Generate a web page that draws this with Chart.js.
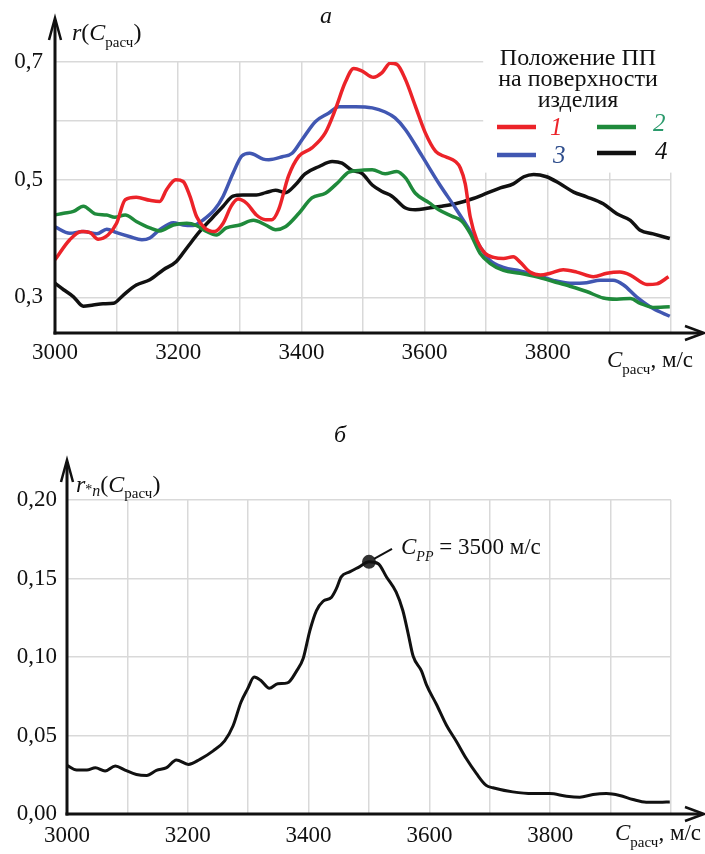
<!DOCTYPE html>
<html lang="ru">
<head>
<meta charset="utf-8">
<title>r(C расч)</title>
<script src="https://cdn.jsdelivr.net/npm/chart.js@4.4.1/dist/chart.umd.min.js"></script>
<style>
  html, body { margin: 0; padding: 0; background: #fff; }
  body { width: 705px; height: 854px; position: relative; overflow: hidden; }
  canvas { position: absolute; left: 0; }
  #c-top { top: 0; }
  #c-bot { top: 400px; }
</style>
</head>
<body>
<canvas id="c-top" width="705" height="400"></canvas>
<canvas id="c-bot" width="705" height="454"></canvas>
<script>
// Рис. а — r(C расч) для четырёх положений ПП; рис. б — r*n(C расч) с максимумом C_PP.
const SERIF = "'Liberation Serif', 'Times New Roman', serif";
const INK = "#111";
const GRID = "#d9d9d9";

// ---- оси ----
const X_TICKS = [3000, 3100, 3200, 3300, 3400, 3500, 3600, 3700, 3800, 3900, 4000];
const X_LABELS = ["3000", "", "3200", "", "3400", "", "3600", "", "3800", "", ""];
const Y1_TICKS = [0.3, 0.4, 0.5, 0.6, 0.7];
const Y1_LABELS = ["0,3", "", "0,5", "", "0,7"];
const Y2_TICKS = [0, 0.05, 0.1, 0.15, 0.2];
const Y2_LABELS = ["0,00", "0,05", "0,10", "0,15", "0,20"];

// ---- а: кривая 1 (красная) ----
const C1 = [3000, 3024, 3043, 3057, 3070, 3086, 3100, 3114, 3132, 3154, 3170, 3181, 3196, 3208, 3219, 3230,
  3243, 3259, 3273, 3286, 3297, 3311, 3327, 3342, 3352, 3363, 3379, 3396, 3417, 3439, 3455, 3471, 3485, 3498,
  3517, 3531, 3544, 3555, 3569, 3585, 3601, 3618, 3634, 3650, 3658, 3666, 3674, 3685, 3698, 3712, 3728, 3744,
  3755, 3771, 3788, 3804, 3825, 3847, 3874, 3896, 3917, 3934, 3961, 3977, 3996];
const R1 = [.364, .398, .412, .410, .399, .406, .426, .466, .470, .465, .463, .483, .500, .497, .472, .437,
  .418, .412, .426, .455, .467, .460, .440, .432, .432, .449, .506, .540, .554, .580, .619, .665, .689, .685,
  .674, .682, .698, .696, .670, .625, .580, .548, .539, .531, .520, .493, .437, .397, .375, .368, .366, .369,
  .360, .343, .338, .341, .347, .343, .335, .341, .343, .338, .322, .323, .335];

// ---- а: кривая 2 (зелёная) ----
const C2 = [3000, 3014, 3030, 3046, 3065, 3084, 3097, 3114, 3132, 3154, 3170, 3192, 3214, 3230, 3246, 3262,
  3278, 3300, 3322, 3342, 3358, 3374, 3396, 3417, 3439, 3461, 3477, 3498, 3515, 3536, 3555, 3569, 3585, 3607,
  3623, 3644, 3660, 3674, 3690, 3706, 3728, 3755, 3782, 3809, 3836, 3863, 3890, 3912, 3934, 3950, 3971, 3998];
const R2 = [.440, .443, .446, .455, .442, .440, .436, .440, .429, .418, .413, .423, .426, .422, .412, .406,
  .418, .423, .431, .423, .415, .420, .443, .469, .477, .497, .513, .516, .517, .510, .514, .503, .477, .461,
  .449, .438, .430, .409, .375, .358, .346, .341, .335, .327, .319, .310, .299, .297, .298, .290, .283, .284];

// ---- а: кривая 3 (синяя) ----
const C3 = [3000, 3024, 3046, 3068, 3084, 3100, 3122, 3141, 3154, 3170, 3192, 3208, 3224, 3241, 3259, 3273,
  3289, 3303, 3316, 3338, 3347, 3369, 3385, 3401, 3423, 3444, 3461, 3488, 3515, 3536, 3552, 3569, 3596, 3623,
  3650, 3666, 3690, 3706, 3728, 3755, 3782, 3809, 3836, 3863, 3885, 3906, 3923, 3944, 3971, 3998];
const R3 = [.420, .409, .412, .408, .416, .410, .403, .398, .401, .415, .427, .423, .422, .432, .449, .472,
  .511, .540, .545, .535, .534, .539, .545, .568, .599, .613, .624, .624, .622, .615, .605, .585, .540, .494,
  .452, .426, .386, .363, .351, .345, .338, .329, .324, .325, .329, .329, .321, .301, .281, .268];

// ---- а: кривая 4 (чёрная) ----
const C4 = [3000, 3014, 3030, 3046, 3062, 3078, 3095, 3111, 3132, 3154, 3176, 3197, 3214, 3235, 3257, 3273,
  3289, 3305, 3327, 3342, 3358, 3374, 3390, 3406, 3428, 3450, 3466, 3482, 3498, 3515, 3531, 3547, 3569, 3585,
  3607, 3628, 3650, 3679, 3701, 3723, 3744, 3761, 3777, 3798, 3820, 3842, 3863, 3890, 3912, 3934, 3950, 3971, 3998];
const R4 = [.324, .313, .301, .285, .287, .289, .290, .304, .321, .330, .347, .361, .384, .412, .437, .455,
  .472, .474, .474, .478, .482, .478, .491, .510, .522, .531, .528, .516, .511, .491, .480, .472, .452, .449,
  .452, .455, .459, .468, .477, .486, .493, .505, .509, .505, .493, .479, .471, .459, .442, .431, .414, .408, .400];

// ---- б: r*n(C расч) ----
const CN = [3000, 3016, 3033, 3047, 3063, 3080, 3096, 3115, 3132, 3148, 3165, 3181, 3201, 3220, 3242, 3261,
  3275, 3288, 3299, 3310, 3321, 3335, 3349, 3365, 3380, 3391, 3402, 3413, 3424, 3438, 3446, 3454, 3468, 3484,
  3500, 3515, 3529, 3545, 3556, 3565, 3573, 3587, 3595, 3612, 3628, 3645, 3661, 3678, 3694, 3705, 3738, 3771,
  3799, 3827, 3849, 3871, 3893, 3915, 3937, 3959, 3981, 3998];
const RN = [.0310, .0280, .0280, .0295, .0274, .0306, .0280, .0252, .0246, .0278, .0295, .0344, .0316, .0348, .0402, .0466,
  .0562, .0712, .0797, .0872, .0850, .0801, .0829, .0835, .0910, .0990, .1167, .1296, .1355, .1381, .1435, .1510, .1542, .1574,
  .1606, .1595, .1510, .1413, .1296, .1146, .1006, .0910, .0824, .0696, .0567, .0460, .0353, .0257, .0182, .0167, .0141, .0130,
  .0130, .0113, .0107, .0124, .0130, .0118, .0092, .0075, .0075, .0077];
const PEAK_C = [3500];
const PEAK_R = [0.1606];

const SERIES = [
  { name: "1", c: C1, r: R1, color: "#ec2329", label: "#ec2329" },
  { name: "2", c: C2, r: R2, color: "#1f8a3b", label: "#2b9a6c" },
  { name: "3", c: C3, r: R3, color: "#4157b2", label: "#2e4d8c" },
  { name: "4", c: C4, r: R4, color: "#111111", label: "#111111" },
];

const pts = (cs, rs) => cs.map((c, i) => ({ x: c, y: rs[i] }));

// Текст из кусков: курсив, индексы (dy), разные кегли.
function runs(ctx, x, y, parts) {
  ctx.textBaseline = "alphabetic";
  ctx.textAlign = "left";
  for (const p of parts) {
    ctx.font = `${p.it ? "italic " : ""}${p.size}px ${SERIF}`;
    ctx.fillStyle = p.color || INK;
    ctx.fillText(p.t, x, y + (p.dy || 0));
    x += ctx.measureText(p.t).width;
  }
}

function line(ctx, x1, y1, x2, y2, w, color) {
  ctx.beginPath();
  ctx.moveTo(x1, y1);
  ctx.lineTo(x2, y2);
  ctx.lineWidth = w;
  ctx.strokeStyle = color;
  ctx.stroke();
}

// Оси-стрелки поверх графика.
function arrows(ctx, area, yTip, xTip) {
  ctx.save();
  ctx.lineCap = "butt";
  const x0 = area.left, y0 = area.bottom;
  line(ctx, x0, y0 + 1.5, x0, yTip + 2, 3, INK);
  line(ctx, x0 - 1.5, y0, xTip - 2, y0, 3, INK);
  ctx.lineJoin = "miter";
  ctx.beginPath();
  ctx.moveTo(x0 - 6, yTip + 22); ctx.lineTo(x0, yTip); ctx.lineTo(x0 + 6, yTip + 22);
  ctx.lineWidth = 2.5; ctx.strokeStyle = INK; ctx.stroke();
  ctx.beginPath();
  ctx.moveTo(xTip - 19, y0 - 7); ctx.lineTo(xTip, y0); ctx.lineTo(xTip - 19, y0 + 7);
  ctx.stroke();
  ctx.restore();
}

const xScale = (pad) => ({
  type: "linear", min: 3000, max: 4000,
  afterBuildTicks: (s) => { s.ticks = X_TICKS.map((v) => ({ value: v })); },
  afterFit: (s) => { s.height = 40; },
  border: { display: false },
  grid: { color: GRID, lineWidth: 1.5, drawTicks: false },
  ticks: { font: { family: SERIF, size: 23 }, color: INK, padding: pad, maxRotation: 0, autoSkip: false,
    callback: (v, i) => X_LABELS[i] },
});

const yScale = (min, max, ticks, labels, width, pad) => ({
  type: "linear", min, max,
  afterBuildTicks: (s) => { s.ticks = ticks.map((v) => ({ value: v })); },
  afterFit: (s) => { s.width = width; },
  border: { display: false },
  grid: { color: GRID, lineWidth: 1.5, drawTicks: false },
  ticks: { font: { family: SERIF, size: 23 }, color: INK, padding: pad, autoSkip: false,
    callback: (v, i) => labels[i] },
});

// ---------- а ----------
const topOverlay = {
  id: "topOverlay",
  beforeDatasetsDraw(chart) {
    // легенда занимает угол: сетку под ней не видно
    const { ctx, chartArea: a, scales } = chart;
    ctx.save();
    ctx.fillStyle = "#fff";
    const x = scales.x.getPixelForValue(3700) - 3;
    ctx.fillRect(x, a.top - 2, a.right - x + 3, scales.y.getPixelForValue(0.512) - a.top + 2);
    ctx.restore();
  },
  afterDatasetsDraw(chart) {
    const { ctx, chartArea: a } = chart;
    ctx.save();
    arrows(ctx, a, 18, 704);
    runs(ctx, 320, 23, [{ t: "а", it: true, size: 24 }]);
    runs(ctx, 72, 40, [
      { t: "r", it: true, size: 24 }, { t: "(", size: 24 }, { t: "C", it: true, size: 24 },
      { t: "расч", size: 15, dy: 7 }, { t: ")", size: 24 },
    ]);
    runs(ctx, 607, 367, [
      { t: "C", it: true, size: 23 }, { t: "расч", size: 15, dy: 7 }, { t: ", м/с", size: 23 },
    ]);
    // легенда
    ctx.font = `24px ${SERIF}`;
    ctx.fillStyle = INK;
    ctx.textAlign = "center";
    ctx.textBaseline = "alphabetic";
    ["Положение ПП", "на поверхности", "изделия"].forEach((s, i) => ctx.fillText(s, 578, 65 + i * 21));
    const pos = [[497, 127, 550, 135], [597, 127, 653, 131], [497, 155, 553, 163], [597, 153, 655, 159]];
    SERIES.forEach((s, i) => {
      const [lx, ly, tx, ty] = pos[i];
      line(ctx, lx, ly, lx + 39, ly, 4.5, s.color);
      runs(ctx, tx, ty, [{ t: s.name, it: true, size: 25, color: s.label }]);
    });
    ctx.restore();
  },
};

new Chart(document.getElementById("c-top"), {
  type: "line",
  data: {
    datasets: SERIES.map((s) => ({
      label: s.name, data: pts(s.c, s.r), borderColor: s.color, borderWidth: 3.5,
      pointRadius: 0, cubicInterpolationMode: "monotone", fill: false,
    })),
  },
  options: {
    responsive: false, animation: false, devicePixelRatio: 1,
    layout: { padding: { top: 62, right: 34, bottom: 27, left: 0 } },
    plugins: { legend: { display: false }, tooltip: { enabled: false } },
    scales: {
      x: xScale(6),
      y: yScale(0.2395, 0.7, Y1_TICKS, Y1_LABELS, 55, 12),
    },
  },
  plugins: [topOverlay],
});

// ---------- б ----------
const botOverlay = {
  id: "botOverlay",
  afterDatasetsDraw(chart) {
    const { ctx, chartArea: a } = chart;
    ctx.save();
    arrows(ctx, a, 60, 704);
    runs(ctx, 334, 42, [{ t: "б", it: true, size: 24 }]);
    runs(ctx, 76, 92, [
      { t: "r", it: true, size: 24 }, { t: "*", size: 14, dy: 2 }, { t: "n", it: true, size: 16, dy: 4 },
      { t: "(", size: 24 }, { t: "C", it: true, size: 24 }, { t: "расч", size: 15, dy: 6 }, { t: ")", size: 24 },
    ]);
    runs(ctx, 615, 440, [
      { t: "C", it: true, size: 23 }, { t: "расч", size: 15, dy: 7 }, { t: ", м/с", size: 23 },
    ]);
    const p = chart.getDatasetMeta(1).data[0];
    line(ctx, p.x + 5, p.y - 3, p.x + 23, p.y - 13, 2, INK);
    runs(ctx, p.x + 32, p.y - 8, [
      { t: "C", it: true, size: 23 }, { t: "PP", it: true, size: 14, dy: 7 }, { t: " = 3500 м/с", size: 23 },
    ]);
    ctx.restore();
  },
};

new Chart(document.getElementById("c-bot"), {
  type: "line",
  data: {
    datasets: [
      { label: "r*n", data: pts(CN, RN), borderColor: INK, borderWidth: 3, pointRadius: 0,
        cubicInterpolationMode: "monotone", fill: false },
      { label: "C_PP", data: pts(PEAK_C, PEAK_R), showLine: false, pointRadius: 7,
        pointBackgroundColor: "#333", pointBorderWidth: 0 },
    ],
  },
  options: {
    responsive: false, animation: false, devicePixelRatio: 1,
    layout: { padding: { top: 100, right: 34, bottom: 0, left: 0 } },
    plugins: { legend: { display: false }, tooltip: { enabled: false } },
    scales: {
      x: xScale(8),
      y: yScale(0, 0.2, Y2_TICKS, Y2_LABELS, 67, 10),
    },
  },
  plugins: [botOverlay],
});
</script>
</body>
</html>
